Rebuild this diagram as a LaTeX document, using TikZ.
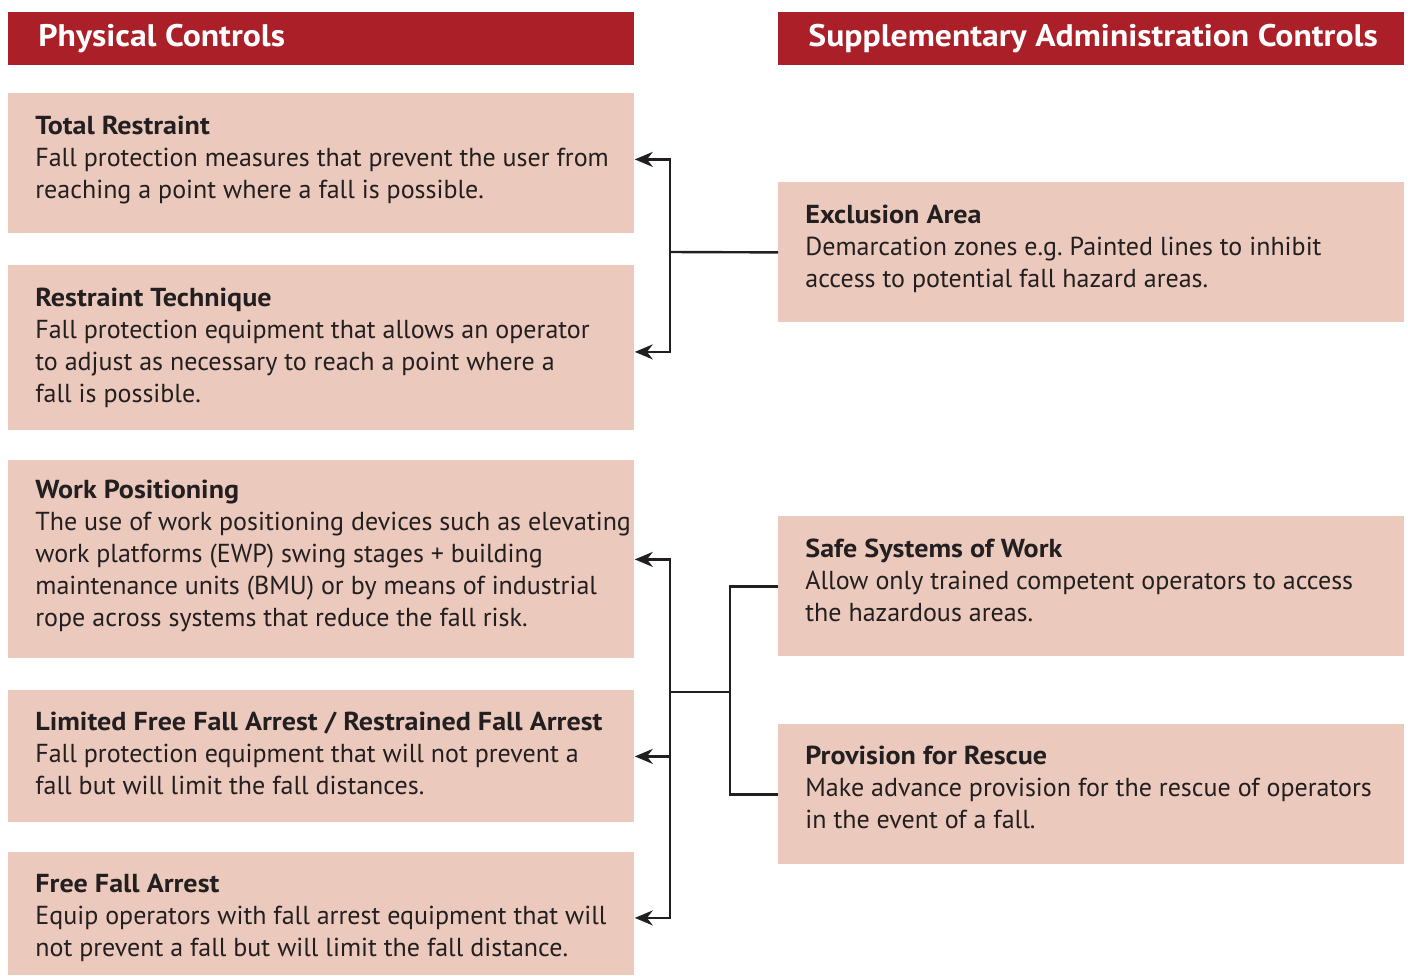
\documentclass[tikz,border=0pt]{standalone}
\usepackage{fontspec}
\setmainfont{PT Sans}[BoldFeatures={FakeStretch=1.08}]
\usetikzlibrary{arrows.meta}
\usetikzlibrary{positioning}
\usetikzlibrary{calc}

\definecolor{hdrred}{HTML}{AB1F28}
\definecolor{cardfill}{HTML}{EBC9BC}
\definecolor{inkgray}{HTML}{231F20}

\frenchspacing

\begin{document}
\begin{tikzpicture}[x=1pt, y=-1pt,
    header/.style={rectangle, fill=hdrred, minimum width=313pt, minimum height=26.5pt, inner sep=0pt, anchor=north west},
    card/.style={rectangle, fill=cardfill, minimum width=313pt, inner sep=0pt, anchor=north west},
    hdrtext/.style={anchor=west, inner sep=0pt, text=white, font=\fontsize{15.6}{19}\selectfont\bfseries},
    cardtext/.style={anchor=west, inner sep=0pt, yshift=1.5pt, align=left, text=inkgray, font=\fontsize{13}{16}\selectfont},
    link/.style={draw=inkgray, line width=1.2pt},
    arr/.style={link, -{Stealth[length=9pt, width=7.5pt]}}]

      \useasboundingbox (0,0) rectangle (704,487.5);

      % Column headers
      \node[header] (hphys) at (4, 6) {};
      \node[header] (hadmin) at (389, 6) {};
      \node[hdrtext] at ([xshift=15pt]hphys.west) {Physical Controls};
      \node[hdrtext] at ([xshift=15pt]hadmin.west) {Supplementary Administration Controls};

      % Physical controls (left column)
      \node[card, minimum height=70pt] (tr) at (4, 46.5) {};
      \node[card, minimum height=82.5pt] (rt) at (4, 132.5) {};
      \node[card, minimum height=99pt] (wp) at (4, 230) {};
      \node[card, minimum height=66pt] (lffa) at (4, 345) {};
      \node[card, minimum height=61.5pt] (ffa) at (4, 426) {};

      \node[cardtext] (trt) at ([xshift=13.5pt]tr.west) {\textbf{Total Restraint}\\
        Fall protection measures that prevent the user from\\
        reaching a point where a fall is possible.};
      \node[cardtext] (rtt) at ([xshift=13.5pt, yshift=-1.5pt]rt.west) {\textbf{Restraint Technique}\\
        Fall protection equipment that allows an operator\\
        to adjust as necessary to reach a point where a\\
        fall is possible.};
      \node[cardtext] (wpt) at ([xshift=13.5pt]wp.west) {\textbf{Work Positioning}\\
        The use of work positioning devices such as elevating\\
        work platforms (EWP) swing stages + building\\
        maintenance units (BMU) or by means of industrial\\
        rope across systems that reduce the fall risk.};
      \node[cardtext] (lffat) at ([xshift=13.5pt]lffa.west) {\textbf{Limited Free Fall Arrest / Restrained Fall Arrest}\\
        Fall protection equipment that will not prevent a\\
        fall but will limit the fall distances.};
      \node[cardtext] (ffat) at ([xshift=13.5pt, yshift=-3.5pt]ffa.west) {\textbf{Free Fall Arrest}\\
        Equip operators with fall arrest equipment that will\\
        not prevent a fall but will limit the fall distance.};

      % Administration controls (right column)
      \node[card, minimum height=70pt] (ea) at (389, 91) {};
      \node[card, minimum height=70pt] (ssw) at (389, 258) {};
      \node[card, minimum height=70pt] (pr) at (389, 362) {};

      \node[cardtext] (eat) at ([xshift=13.5pt, yshift=0.5pt]ea.west) {\textbf{Exclusion Area}\\
        Demarcation zones e.g. Painted lines to inhibit\\
        access to potential fall hazard areas.};
      \node[cardtext] (sswt) at ([xshift=13.5pt, yshift=1.5pt]ssw.west) {\textbf{Safe Systems of Work}\\
        Allow only trained competent operators to access\\
        the hazardous areas.};
      \node[cardtext] (prt) at ([xshift=13.5pt, yshift=2pt]pr.west) {\textbf{Provision for Rescue}\\
        Make advance provision for the rescue of operators\\
        in the event of a fall.};

      % Junctions of the connectors
      \coordinate (j1) at (335, 126);
      \coordinate (j2) at (335, 346);
      \coordinate (j3) at (365, 346);

      % Upper connector
      \draw[link] (ea.west) -- (j1);
      \draw[arr] (j1) |- ([yshift=2pt]tr.east);
      \draw[arr] (j1) |- ([yshift=-2pt]rt.east);

      % Lower connector
      \draw[link] (ssw.west) -| (j3) |- (pr.west);
      \draw[link] (j3) -- (j2);
      \draw[arr] (j2) |- (wp.east);
      \draw[arr] (j2) |- (lffa.east);
      \draw[arr] (j2) |- ([yshift=-2pt]ffa.east);

    \end{tikzpicture}
\end{document}
